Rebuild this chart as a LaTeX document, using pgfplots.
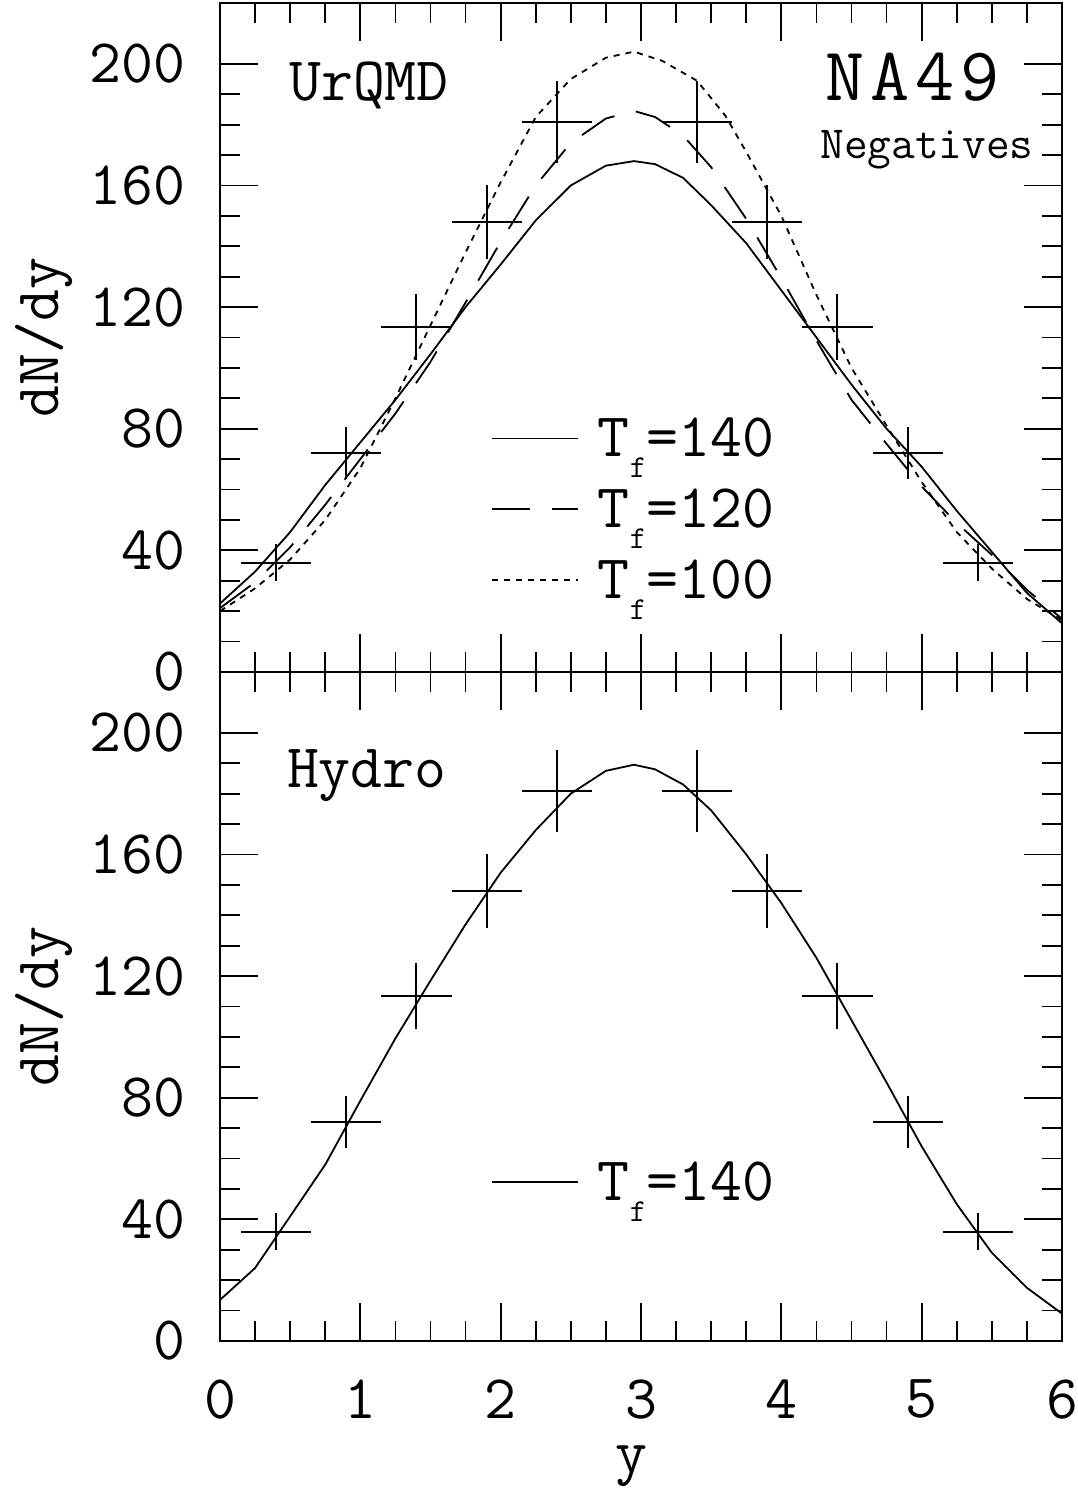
\documentclass[border=0pt]{standalone}
\usepackage{pgfplots}
\usepackage{pgfplotstable}
\pgfplotsset{compat=1.18}
\usepackage{fontspec}
\setmainfont{Latin Modern Mono}

% NA49 negative hadrons, rapidity distribution
\pgfplotstableread{
rap  dndy   err
0.4  36     6
0.9  72     8.5
1.4  113.5  10.8
1.9  148    12.2
2.4  181    13.5
3.4  181    13.5
3.9  148    12.2
4.4  113.5  10.8
4.9  72     8.5
5.4  36     6
}\negdata

% UrQMD afterburner, T_f = 140 MeV
\pgfplotstableread{
rap  dndy
0.00 22.5
0.25 33
0.50 46
0.75 61.5
1.00 75.5
1.25 89.5
1.50 104.5
1.75 120
2.00 134
2.25 148.5
2.50 160
2.75 166.5
2.95 168
3.10 167
3.30 162.5
3.50 153.5
3.75 141
4.00 125.5
4.25 110
4.50 94.5
4.75 80
5.00 67.5
5.25 53
5.50 39.5
5.75 26
6.00 16
}\urqmdA

% UrQMD afterburner, T_f = 120 MeV
\pgfplotstableread{
rap  dndy
0.00 21
0.25 29.5
0.50 41
0.75 55
1.00 70
1.25 85
1.50 102
1.75 121.5
2.00 141.5
2.25 160
2.50 174
2.75 182
2.95 184.5
3.10 182.5
3.30 176.4
3.50 166
3.75 149
4.00 129.5
4.25 109
4.50 89.5
4.75 75
5.00 61
5.25 49
5.50 38.5
5.75 27
6.00 17.5
}\urqmdB

% UrQMD afterburner, T_f = 100 MeV
\pgfplotstableread{
rap  dndy
0.00 20
0.25 27.5
0.50 37
0.75 50
1.00 67
1.25 90
1.50 114
1.75 138
2.00 161
2.25 182.5
2.50 195
2.75 202
2.95 204
3.15 201
3.40 194.4
3.60 183
3.75 171
4.00 150
4.25 124
4.50 100
4.75 81
5.00 62.5
5.25 46
5.50 34
5.75 24
6.00 17
}\urqmdC

% pure hydrodynamics, T_f = 140 MeV
\pgfplotstableread{
rap  dndy
0.00 13.5
0.25 24
0.50 41
0.75 58
1.00 79
1.25 99.5
1.50 118.5
1.75 137
2.00 154
2.25 168
2.50 180
2.75 187.5
2.95 189.5
3.10 188
3.30 183
3.50 174.5
3.75 160
4.00 144
4.25 126
4.50 105.5
4.75 85
5.00 64
5.25 45
5.50 29
5.75 17.5
6.00 9
}\hydro

\pgfplotsset{
  panel/.style={
    scale only axis, width=421pt, height=334.5pt,
    anchor=south west,
    xmin=0, xmax=6, ymin=0, ymax=220,
    xtick={0,...,6}, minor x tick num=3,
    ytick={0,40,...,200}, minor y tick num=3,
    tick align=inside,
    major tick length=19pt, minor tick length=10pt,
    axis line style={line width=1.1pt},
    tick style={black, line width=0.9pt},
    /pgf/number format/assume math mode=true,
    yticklabel style={anchor=east, inner sep=0pt, xshift=-17pt},
    xticklabel style={anchor=north, inner sep=0pt, yshift=-19pt},
    ylabel={dN/dy},
    every axis y label/.style={at={([xshift=-88pt]axis description cs:0,0.5)},
      rotate=90, anchor=center, inner sep=0pt},
    every axis x label/.style={at={([xshift=-5pt, yshift=-52pt]axis description cs:0.5,0)},
      anchor=north, inner sep=0pt},
    clip=false,
  },
  curve/.style={black, line width=0.9pt, sharp plot, no markers},
  dashcurve/.style={curve, dash pattern=on 19pt off 11pt},
  dotcurve/.style={curve, dash pattern=on 3pt off 3pt},
  crosses/.style={draw=none, no markers, forget plot,
    error bars/.cd, x dir=both, x fixed=0.25, y dir=both, y explicit,
    error mark=none, error bar style={draw=black, solid, line width=1pt}},
}

\newcommand{\Tf}{T\raisebox{-10.5pt}{\fontsize{16}{16}\selectfont f}}

\begin{document}
\fontsize{31}{37}\selectfont
\begin{tikzpicture}
\useasboundingbox (-110pt,-75pt) rectangle (428.5pt,670.5pt);

% upper panel: UrQMD afterburner
\begin{axis}[panel, at={(0pt,334.5pt)}, xticklabels={}]
  \addplot[crosses] table[x=rap, y=dndy, y error=err] {\negdata};
  \addplot[curve] table[x=rap, y=dndy] {\urqmdA};
  \addplot[dashcurve] table[x=rap, y=dndy] {\urqmdB};
  \addplot[dotcurve] table[x=rap, y=dndy] {\urqmdC};
  % key
  \addplot[curve, forget plot] coordinates {(1.94,76.8) (2.55,76.8)};
  \addplot[dashcurve, forget plot] coordinates {(1.94,53.5) (2.55,53.5)};
  \addplot[dotcurve, forget plot] coordinates {(1.94,30.3) (2.55,30.3)};
  \node[anchor=base west, inner sep=0pt] at (axis cs:2.69,70.7) {\Tf=140};
  \node[anchor=base west, inner sep=0pt] at (axis cs:2.69,47.4) {\Tf=120};
  \node[anchor=base west, inner sep=0pt] at (axis cs:2.69,24.2) {\Tf=100};
  \node[anchor=base west, inner sep=0pt] at (axis cs:0.49,188) {UrQMD};
  \node[anchor=base east, inner sep=0pt,
    font=\fontsize{38}{44}\selectfont\addfontfeature{LetterSpace=8}]
    at (axis cs:5.56,188) {NA49};
  \node[anchor=base east, inner sep=0pt, font=\fontsize{23}{28}\selectfont]
    at (axis cs:5.80,169) {Negatives};
\end{axis}

% lower panel: pure hydrodynamics
\begin{axis}[panel, at={(0pt,0pt)}, xlabel={y}]
  \addplot[crosses] table[x=rap, y=dndy, y error=err] {\negdata};
  \addplot[curve] table[x=rap, y=dndy] {\hydro};
  \addplot[curve, forget plot] coordinates {(1.94,52.3) (2.55,52.3)};
  \node[anchor=base west, inner sep=0pt] at (axis cs:2.69,46.2) {\Tf=140};
  \node[anchor=base west, inner sep=0pt] at (axis cs:0.475,182) {Hydro};
\end{axis}
\end{tikzpicture}
\end{document}
